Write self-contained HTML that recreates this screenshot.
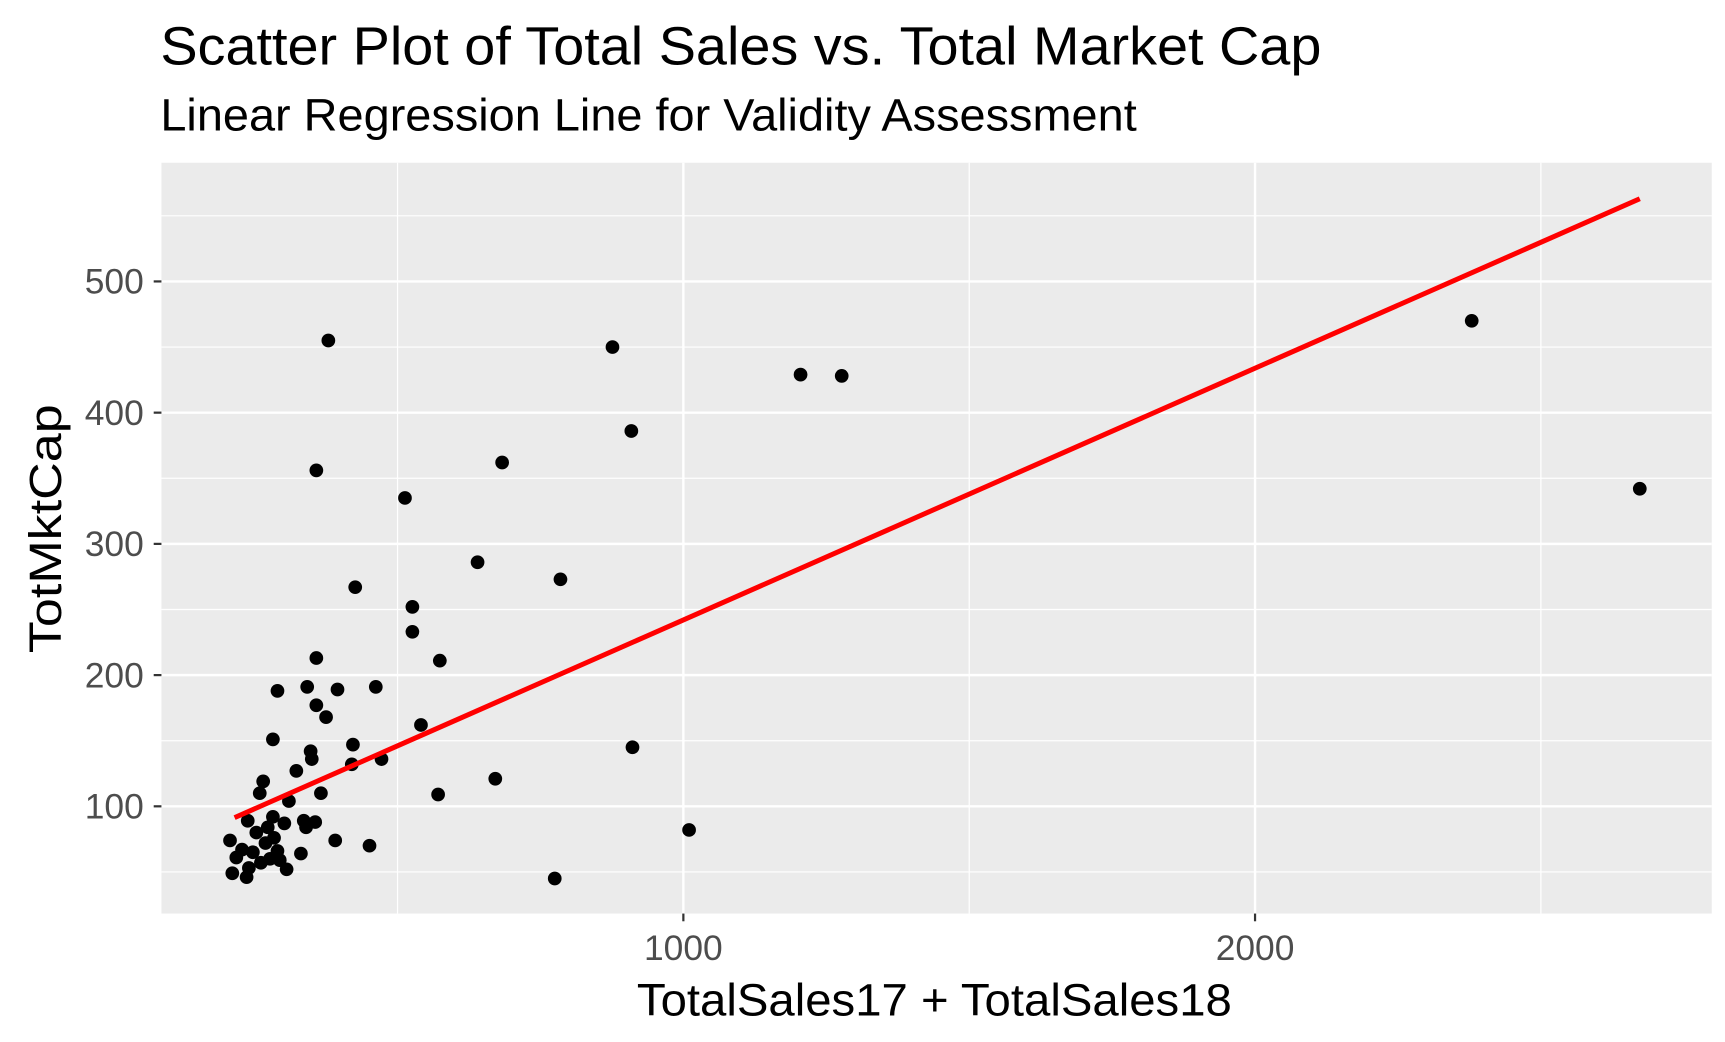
<!DOCTYPE html>
<html><head><meta charset="utf-8"><style>
html,body{margin:0;padding:0;background:#fff;}
svg{display:block;font-family:"Liberation Sans",Arial,sans-serif;}
</style></head><body>
<svg id="chart" width="1725" height="1042" viewBox="0 0 1560 942" xmlns="http://www.w3.org/2000/svg">
<rect width="1560" height="942" fill="#fff"/>
<text x="145" y="58" font-size="49" fill="#000" textLength="1050" lengthAdjust="spacingAndGlyphs">Scatter Plot of Total Sales vs. Total Market Cap</text>
<text x="145" y="118" font-size="41" fill="#000" textLength="883" lengthAdjust="spacingAndGlyphs">Linear Regression Line for Validity Assessment</text>
<rect x="146" y="147" width="1402" height="679" fill="#EBEBEB"/>
<g id="grid"></g>
<g id="axes"></g>
<g id="marks"></g>
<text x="845" y="918" font-size="41" text-anchor="middle" fill="#000" textLength="538" lengthAdjust="spacingAndGlyphs">TotalSales17 + TotalSales18</text>
<text transform="translate(55,478) rotate(-90)" font-size="41" text-anchor="middle" fill="#000" textLength="225" lengthAdjust="spacingAndGlyphs">TotMktCap</text>
</svg>
<script>
const salesX = [379,876,1205,1277,2379,2673,909,683,358,513,640,785,426,526,526,574,358,290,342,395,462,358,375,541,282,422,911,348,350,472,420,323,265,259,366,571,671,310,1010,775,451,391,331,306,356,336,340,302,282,238,207,211,236,218,247,261,277,294,269,284,253,240,228,273,290];
const mktCapY = [455,450,429,428,470,342,386,362,356,335,286,273,267,252,233,211,213,188,191,189,191,177,168,162,151,147,145,142,136,136,132,127,119,110,110,109,121,104,82,45,70,74,64,52,88,89,84,87,92,89,74,49,46,61,65,57,60,59,72,76,80,53,67,84,66];
const fitX = [215, 2673];
const fitY = [91.4, 563];
const xTicks = [1000, 2000];
const xMinor = [500, 1500, 2500];
const yTicks = [100, 200, 300, 400, 500];
const yMinor = [50, 150, 250, 350, 450, 550];

const NS = "http://www.w3.org/2000/svg";
const xs = v => 101 + v * 0.517;
const ys = v => 847.7 - v * 1.1867;
function mk(tag, attrs, parent){const e=document.createElementNS(NS,tag);for(const k in attrs)e.setAttribute(k,attrs[k]);parent.appendChild(e);return e;}
const grid=document.getElementById('grid'), axes=document.getElementById('axes'), marks=document.getElementById('marks');
xMinor.forEach(v=>{const l=mk('line',{x1:xs(v),x2:xs(v),y1:147,y2:826,stroke:'#fff','stroke-width':1.1},grid);

});
yMinor.forEach(v=>{const l=mk('line',{x1:146,x2:1548,y1:ys(v),y2:ys(v),stroke:'#fff','stroke-width':1.1},grid);

});
xTicks.forEach(v=>{const l=mk('line',{x1:xs(v),x2:xs(v),y1:147,y2:826,stroke:'#fff','stroke-width':2.2},grid);


const t=mk('line',{x1:xs(v),x2:xs(v),y1:826,y2:833,stroke:'#333','stroke-width':2},axes);


const tx=mk('text',{x:xs(v),y:868,'font-size':32,'text-anchor':'middle',fill:'#4D4D4D'},axes);tx.textContent=v;

});
yTicks.forEach(v=>{const l=mk('line',{x1:146,x2:1548,y1:ys(v),y2:ys(v),stroke:'#fff','stroke-width':2.2},grid);


const t=mk('line',{x1:139,x2:146,y1:ys(v),y2:ys(v),stroke:'#333','stroke-width':2},axes);


const tx=mk('text',{x:130,y:ys(v)+11,'font-size':32,'text-anchor':'end',fill:'#4D4D4D'},axes);tx.textContent=v;

});
salesX.forEach((v,i)=>{const c=mk('circle',{cx:xs(v),cy:ys(mktCapY[i]),r:6.2,fill:'#000'},marks);

});
const rl=mk('line',{x1:xs(fitX[0]),y1:ys(fitY[0]),x2:xs(fitX[1]),y2:ys(fitY[1]),stroke:'#FF0000','stroke-width':4.5},marks);


</script>
</body></html>
